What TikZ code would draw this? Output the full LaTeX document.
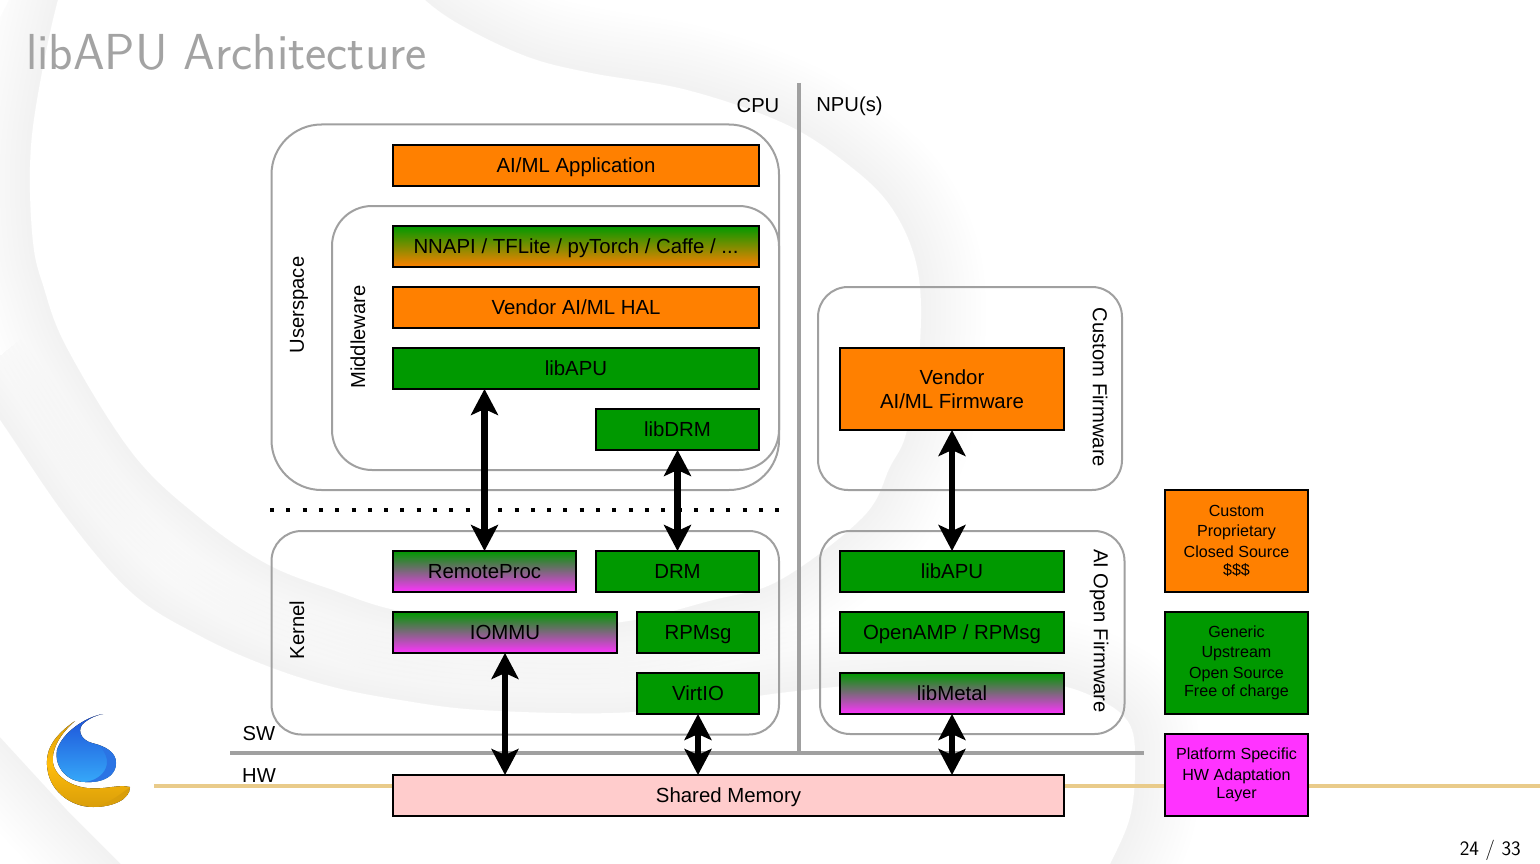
\documentclass[tikz,border=0pt]{standalone}
\usepackage{fontspec}
\setmainfont{Liberation Sans}
\usetikzlibrary{arrows.meta}

\definecolor{boxorange}{HTML}{FF8000}
\definecolor{boxgreen}{HTML}{009900}
\definecolor{boxmagenta}{HTML}{FF33FF}
\definecolor{boxpink}{HTML}{FFCCCC}
\definecolor{linegray}{HTML}{A0A0A0}
\definecolor{titlegray}{HTML}{A3A3A3}
\definecolor{goldline}{HTML}{E9CB8A}
\definecolor{logogold}{HTML}{FFBC0A}
\definecolor{logogolddark}{HTML}{D99E0A}
\definecolor{logoblue}{HTML}{1D50D8}
\definecolor{logosky}{HTML}{36A9F9}
\definecolor{logomid}{HTML}{2B74E4}

\newcommand{\upperedge}{plot[smooth, tension=0.6] coordinates {(75,-30) (58,0) (37,100) (30,167) (33,242) (43,285) (67,348) (133,454) (200,518) (267,564) (333,590) (400,611) (497,622) (613,623) (713,600) (780,580) (863,517) (890,467) (907,430) (920,343) (917,267) (891,207) (846,163) (783,123) (687,90) (591,73) (528,57) (464,27) (425,0) (400,-30)}}
\newcommand{\loweredge}{plot[smooth, tension=0.6] coordinates {(-30,380) (0,420) (67,518) (133,594) (200,636) (267,666) (333,687) (400,700) (480,710) (613,713) (713,703) (780,693) (880,683) (960,680) (1047,683) (1100,700) (1130,725) (1135,767) (1130,817) (1110,864) (1090,900)}}
\newcommand{\corneredge}{plot[smooth, tension=0.6] coordinates {(-30,712) (0,737) (67,810) (120,863) (150,895)}}

\tikzset{
    box/.style={draw=black, line width=2pt, inner sep=0pt, outer sep=0pt, minimum height=41pt,
        font=\fontsize{20.4}{24}\selectfont, text height=18.8pt, text depth=4.2pt, text centered},
    legend/.style={draw=black, line width=2pt, inner sep=0pt, outer sep=0pt, minimum width=143pt,
        align=center, font=\fontsize{16.1}{20.5}\selectfont},
    group/.style={draw=linegray, line width=2pt, outer sep=0pt, inner sep=0pt, rounded corners=30pt},
    label/.style={inner sep=0pt, font=\fontsize{20.2}{24}\selectfont},
    bigarrow/.style={line width=6.5pt, arrows = {Stealth[length=26pt, width=27pt, inset=6pt]-Stealth[length=26pt, width=27pt, inset=6pt]}},
    divider/.style={draw=linegray, line width=4pt},
    swoosh/.style={draw=black, draw opacity=0.0055}
}

\begin{document}
\begin{tikzpicture}[x=1pt, y=-1pt, node distance=61pt]
    \useasboundingbox (0,0) rectangle (1540,864);

    % Background
    \foreach \w in {10,20,...,130} {
        \draw[swoosh, line width=\w pt] \upperedge;
        \draw[swoosh, line width=\w pt] \loweredge;
        \draw[swoosh, line width=\w pt] \corneredge;
    }
    \fill[white] \upperedge -- cycle;
    \fill[white] \loweredge -- (150,895) -- (120,863) -- (67,810) -- (0,737) -- (-30,712) -- cycle;
    \fill[white] (0,0) -- (9,0) -- (0,17) -- cycle;

    % Title and page number
    \node[inner sep=0pt, anchor=base west, text=titlegray, font=\fontsize{50.6}{52}\selectfont\sffamily] (title) at (26,70) {libAPU Architecture};
    \node[inner sep=0pt, anchor=base east, font=\fontsize{20.5}{24}\selectfont\sffamily] (pagenum) at (1521,855) {24 / 33};

    % Logo
    \fill[top color=logogolddark, bottom color=logogolddark, middle color=logogold]
        (75,721) .. controls (55,735) and (46,748) .. (47,765) .. controls (48,790) and (70,807) .. (93,807)
        .. controls (112,807) and (130,800) .. (130,787) .. controls (118,784) and (105,790) .. (87,788)
        .. controls (70,786) and (55,776) .. (53,763) .. controls (51,748) and (62,732) .. (75,721) -- cycle;
    \fill[logogolddark]
        (130,787) .. controls (128,800) and (112,807) .. (93,807) .. controls (108,804) and (118,796) .. (130,787) -- cycle;
    \fill[top color=logoblue, bottom color=logosky]
        (103,714) .. controls (85,717) and (62,733) .. (57,750) .. controls (54,768) and (68,782) .. (85,782)
        .. controls (103,783) and (116,776) .. (116,763) .. controls (116,752) and (105,746) .. (92,743)
        .. controls (80,740) and (76,728) .. (85,722) .. controls (90,718) and (97,715) .. (103,714) -- cycle;
    \fill[logomid]
        (100,746) .. controls (112,750) and (116,756) .. (116,763) .. controls (116,776) and (103,783) .. (85,782)
        .. controls (100,780) and (108,770) .. (107,760) .. controls (106,754) and (103,750) .. (100,746) -- cycle;

    % Gold line
    \coordinate (linestart) at (154,786);
    \coordinate (lineend) at (1540,786);
    \draw[goldline, line width=3.5pt] (linestart) -- (lineend);

    % Groups
    \node[group, rounded corners=50pt, minimum width=507.5pt, minimum height=365.5pt] (userspace) at (525.25,307.25) {};
    \node[group, rounded corners=40pt, minimum width=447pt, minimum height=264pt] (middleware) at (555.5,338) {};
    \node[group, minimum width=507.5pt, minimum height=203.5pt] (kernel) at (525.25,632.75) {};
    \node[group, minimum width=304pt, minimum height=203pt] (customfw) at (970,388.5) {};
    \node[group, minimum width=304.5pt, minimum height=203pt] (openfw) at (972.25,632.5) {};

    % Dividers
    \coordinate (cputop) at (799,83);
    \coordinate (cpubottom) at (799,753);
    \coordinate (swleft) at (230,753);
    \coordinate (swright) at (1144,753);
    \coordinate (dotsleft) at (270,509.5);
    \coordinate (dotsright) at (779,509.5);
    \draw[divider] (cputop) -- (cpubottom);
    \draw[divider] (swleft) -- (swright);
    \draw[line width=4pt, dash pattern=on 4pt off 12.3pt] (dotsleft) -- (dotsright);

    % Labels
    \node[label] (cpu) at (758,106) {CPU};
    \node[label] (npu) at (849.5,106) {NPU(s)};
    \node[label] (sw) at (259,734) {SW};
    \node[label] (hw) at (259,776) {HW};
    \node[label, rotate=90] (userspace label) at (299,305) {Userspace};
    \node[label, rotate=90] (middleware label) at (358,337) {Middleware};
    \node[label, rotate=90] (kernel label) at (297,630) {Kernel};
    \node[label, rotate=-90] (customfw label) at (1100,387.5) {Custom Firmware};
    \node[label, rotate=-90] (openfw label) at (1099,631) {AI Open Firmware};

    % Nodes
    \node[box, fill=boxorange, minimum width=366pt] (application) at (576,165.5) {AI/ML Application};
    \node[box, top color=boxgreen, bottom color=boxorange, minimum width=366pt] (frameworks) at (576,246.5) {NNAPI / TFLite / pyTorch / Caffe / ...};
    \node[box, fill=boxorange, minimum width=366pt, below of=frameworks] (hal) {Vendor AI/ML HAL};
    \node[box, fill=boxgreen, minimum width=366pt, below of=hal] (libapu) {libAPU};
    \node[box, fill=boxgreen, minimum width=163pt] (libdrm) at (677.5,429.5) {libDRM};

    \node[box, top color=boxgreen, bottom color=boxmagenta, minimum width=183pt] (remoteproc) at (484.5,571.5) {RemoteProc};
    \node[box, fill=boxgreen, minimum width=163pt] (drm) at (677.5,571.5) {DRM};
    \node[box, top color=boxgreen, bottom color=boxmagenta, minimum width=224pt] (iommu) at (505,632.5) {IOMMU};
    \node[box, fill=boxgreen, minimum width=122pt] (rpmsg) at (698,632.5) {RPMsg};
    \node[box, fill=boxgreen, minimum width=122pt, below of=rpmsg] (virtio) {VirtIO};

    \node[box, fill=boxorange, minimum width=224pt, minimum height=82pt, align=center, text height=, text depth=] (firmware) at (952,389) {Vendor\\[0pt]AI/ML Firmware};
    \node[box, fill=boxgreen, minimum width=224pt] (fw libapu) at (952,571.5) {libAPU};
    \node[box, fill=boxgreen, minimum width=224pt, below of=fw libapu] (openamp) {OpenAMP / RPMsg};
    \node[box, top color=boxgreen, bottom color=boxmagenta, minimum width=224pt, below of=openamp] (libmetal) {libMetal};

    \node[box, fill=boxpink, minimum width=671pt] (shared) at (728.5,795.5) {Shared Memory};

    \node[legend, fill=boxorange, minimum height=102pt] (legend custom) at (1236.5,541) {Custom\\Proprietary\\Closed Source\\[-2pt]\$\$\$};
    \node[legend, fill=boxgreen, minimum height=102pt] (legend generic) at (1236.5,663) {Generic\\Upstream\\Open Source\\[-2pt]Free of charge};
    \node[legend, fill=boxmagenta, minimum height=82pt] (legend platform) at (1236.5,775) {Platform Specific\\HW Adaptation\\[-2pt]Layer};

    % Connections
    \draw[bigarrow] (remoteproc.north |- libapu.south) -- (remoteproc.north);
    \draw[bigarrow] (drm.north |- libdrm.south) -- (drm.north);
    \draw[bigarrow] (iommu.south) -- (iommu.south |- shared.north);
    \draw[bigarrow] (virtio.south) -- (virtio.south |- shared.north);
    \draw[bigarrow] (firmware.south) -- (fw libapu.north);
    \draw[bigarrow] (libmetal.south) -- (libmetal.south |- shared.north);
\end{tikzpicture}
\end{document}
